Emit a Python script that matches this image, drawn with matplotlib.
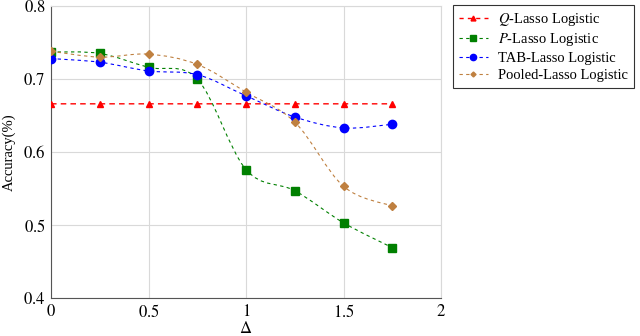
import matplotlib.pyplot as plt
import numpy as np
from matplotlib.path import Path
from matplotlib.patches import PathPatch
from matplotlib.lines import Line2D

# data
delta = [0, 0.25, 0.5, 0.75, 1.0, 1.25, 1.5, 1.75]
q_lasso = [0.666, 0.666, 0.666, 0.666, 0.666, 0.666, 0.666, 0.666]
p_lasso = [0.737, 0.735, 0.716, 0.700, 0.576, 0.547, 0.503, 0.469]
tab_lasso = [0.728, 0.723, 0.711, 0.706, 0.677, 0.648, 0.633, 0.638]
pooled_lasso = [0.738, 0.730, 0.734, 0.720, 0.682, 0.641, 0.553, 0.526]
names = [r"$Q$-Lasso Logistic", r"$P$-Lasso Logistic",
         "TAB-Lasso Logistic", "Pooled-Lasso Logistic"]
x_ticks = [0, 0.5, 1, 1.5, 2]
y_ticks = [0.4, 0.5, 0.6, 0.7, 0.8]

plt.rcParams['font.family'] = 'Liberation Serif'
plt.rcParams['mathtext.fontset'] = 'stix'


def smooth_path(x, y, k=1/6):
    # cubic bezier through the points (like pgfplots "smooth")
    pts = np.column_stack((x, y)).astype(float)
    n = len(pts)
    verts = [pts[0]]
    codes = [Path.MOVETO]
    for i in range(n - 1):
        p0 = pts[i - 1] if i > 0 else pts[i]
        p1 = pts[i]
        p2 = pts[i + 1]
        p3 = pts[i + 2] if i + 2 < n else pts[i + 1]
        c1 = p1 + (p2 - p0) * k
        c2 = p2 - (p3 - p1) * k
        verts += [c1, c2, p2]
        codes += [Path.CURVE4] * 3
    return Path(verts, codes)


fig = plt.figure(figsize=(6.4, 3.36), dpi=100)
ax = fig.add_axes([51/640, 1 - 298/336, 390/640, 292/336])

series = [q_lasso, p_lasso, tab_lasso, pooled_lasso]
colors = ['#ff0000', '#008000', '#0000ff', '#bf8040']
markers = ['^', 's', 'o', 'D']
msizes = [5, 6, 6, 4]
dashes = [(4, 3), (3, 3), (3, 3), (3, 3)]
lws = [1.0, 0.8, 0.8, 0.8]

handles = []
for vals, c, m, ms, d, lw, name in zip(series, colors, markers, msizes, dashes, lws, names):
    patch = PathPatch(smooth_path(delta, vals), facecolor='none', edgecolor=c,
                      lw=lw, linestyle=(0, d), zorder=3)
    ax.add_patch(patch)
    ax.plot(delta, vals, linestyle='none', marker=m, ms=ms, color=c, zorder=4)
    handles.append(Line2D([], [], color=c, lw=lw, dashes=(3, 3), marker=m,
                          ms=ms - 1.5, label=name))

ax.set_xlim(0, 2)
ax.set_ylim(0.4, 0.8)
ax.set_xticks(x_ticks)
ax.set_xticklabels([f"${t:g}$" for t in x_ticks])
ax.set_yticks(y_ticks)
ax.set_yticklabels([f"${t:.1f}$" for t in y_ticks])
ax.tick_params(labelsize=12, length=0, pad=4)
ax.grid(True, color='#d9d9d9', lw=0.8)
ax.set_axisbelow(True)
for s in ['left', 'bottom']:
    ax.spines[s].set_color('#555555')
for s in ['top', 'right']:
    ax.spines[s].set_color('#d9d9d9')

ax.set_xlabel(r"$\Delta$", fontsize=12, labelpad=0)
ax.set_ylabel("Accuracy(%)", fontsize=10.5, labelpad=5)

leg = fig.legend(handles=handles, loc='upper left', bbox_to_anchor=(453/640, 1 - 5/336),
                 borderaxespad=0, fontsize=10.5, frameon=True, fancybox=False,
                 edgecolor='black', handlelength=2.0, handletextpad=0.7,
                 borderpad=0.4, labelspacing=0.25)
leg.get_frame().set_linewidth(0.8)

fig.savefig('out.png', dpi=100)
